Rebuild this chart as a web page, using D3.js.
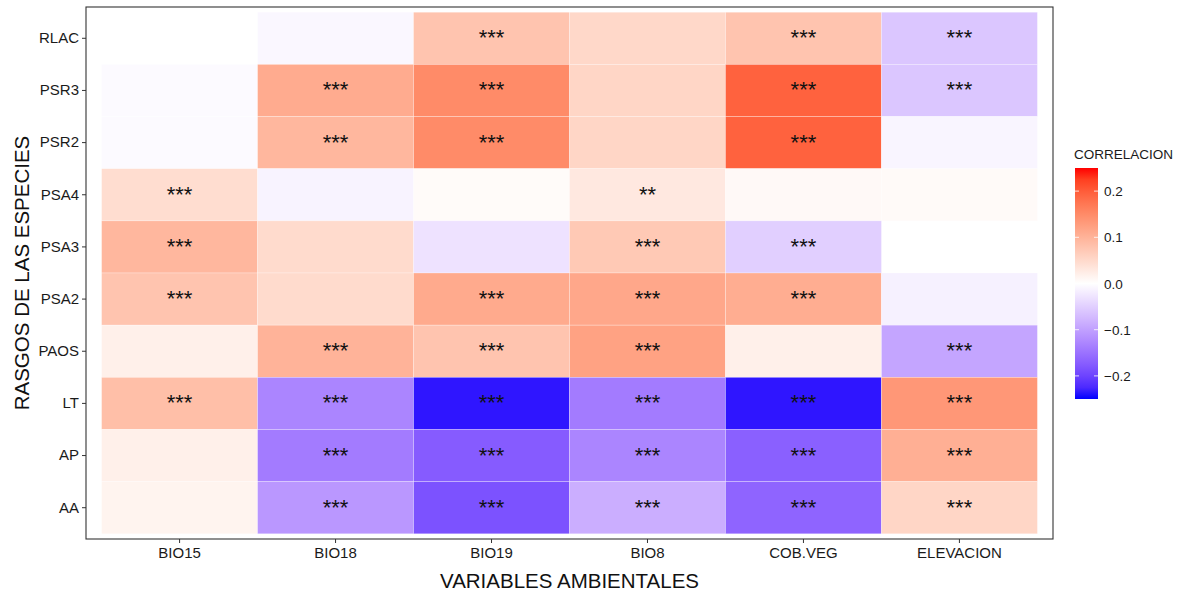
<!DOCTYPE html>
<html>
<head>
<meta charset="utf-8">
<script src="https://cdn.jsdelivr.net/npm/d3@7"></script>
<style>
  body { margin: 0; background: #fff; }
  svg { font-family: "Liberation Sans", Arial, sans-serif; }
</style>
</head>
<body>
<div id="chart-area"></div>
<script>
// columns (environmental variables) and rows (species traits)
const variables = ['BIO15', 'BIO18', 'BIO19', 'BIO8', 'COB.VEG', 'ELEVACION'];
const traits = ['RLAC', 'PSR3', 'PSR2', 'PSA4', 'PSA3', 'PSA2', 'PAOS', 'LT', 'AP', 'AA'];

// correlation per trait, in the order of `variables` (null = no tile)
const rlac = [0.000, -0.008, 0.078, 0.052, 0.078, -0.060];
const psr3 = [-0.005, 0.110, 0.150, 0.055, 0.195, -0.060];
const psr2 = [-0.005, 0.095, 0.150, 0.055, 0.195, -0.010];
const psa4 = [0.045, -0.012, 0.006, 0.030, 0.008, 0.007];
const psa3 = [0.095, 0.048, -0.030, 0.072, -0.050, null];
const psa2 = [0.078, 0.048, 0.112, 0.115, 0.108, -0.015];
const paos = [0.020, 0.100, 0.078, 0.122, 0.020, -0.095];
const lt   = [0.085, -0.130, -0.240, -0.140, -0.240, 0.135];
const ap   = [0.020, -0.140, -0.175, -0.130, -0.170, 0.105];
const aa   = [0.015, -0.110, -0.185, -0.085, -0.165, 0.055];
const values = [rlac, psr3, psr2, psa4, psa3, psa2, paos, lt, ap, aa];

// significance labels, same layout
const sig = [
  ['', '', '***', '', '***', '***'],
  ['', '***', '***', '', '***', '***'],
  ['', '***', '***', '', '***', ''],
  ['***', '', '', '**', '', ''],
  ['***', '', '', '***', '***', ''],
  ['***', '', '***', '***', '***', ''],
  ['', '***', '***', '***', '', '***'],
  ['***', '***', '***', '***', '***', '***'],
  ['', '***', '***', '***', '***', '***'],
  ['', '***', '***', '***', '***', '***']
];

const legendTicks = [0.2, 0.1, 0.0, -0.1, -0.2];

let margin = { left: 86, top: 7 };
let width = 967;
let height = 532;

const svg = d3.select('#chart-area').append('svg')
  .attr('width', 1182)
  .attr('height', 594);

let g = svg.append('g')
  .attr('transform', 'translate(' + margin.left + ', ' + margin.top + ')');

let x = d3.scaleBand()
  .domain(variables)
  .range([0, width])
  .paddingOuter(0.1);

let y = d3.scaleBand()
  .domain(traits)
  .range([0, height])
  .paddingOuter(0.1);

// diverging scale, white in the middle
let color = d3.scaleLinear()
  .domain([-0.25, 0, 0.25])
  .range(['#0000ff', '#ffffff', '#ff0000'])
  .interpolate(d3.interpolateLab)
  .clamp(true);

let cells = [];
traits.forEach((t, i) => {
  variables.forEach((v, j) => {
    cells.push({ trait: t, variable: v, value: values[i][j], label: sig[i][j] });
  });
});

g.selectAll('rect.tile')
  .data(cells.filter(d => d.value !== null))
  .enter()
  .append('rect')
    .attr('class', 'tile')
    .attr('x', d => x(d.variable))
    .attr('y', d => y(d.trait))
    .attr('width', x.bandwidth())
    .attr('height', y.bandwidth())
    .attr('fill', d => color(d.value))
    .attr('stroke', 'rgba(255,255,255,0.45)')
    .attr('stroke-width', 0.6);

g.selectAll('text.sig')
  .data(cells.filter(d => d.label !== ''))
  .enter()
  .append('text')
    .attr('class', 'sig')
    .attr('x', d => x(d.variable) + x.bandwidth() / 2)
    .attr('y', d => y(d.trait) + y.bandwidth() / 2 + 7)
    .attr('text-anchor', 'middle')
    .attr('font-size', '22px')
    .attr('fill', '#111')
    .text(d => d.label);

// panel border
g.append('rect')
  .attr('width', width)
  .attr('height', height)
  .attr('fill', 'none')
  .attr('stroke', '#333')
  .attr('stroke-width', 1.1);

// axes
let xAxis = g.append('g')
  .attr('transform', 'translate(0, ' + height + ')')
  .call(d3.axisBottom(x).tickSize(4).tickPadding(4));
let yAxis = g.append('g')
  .call(d3.axisLeft(y).tickSize(4).tickPadding(3));

[xAxis, yAxis].forEach(ax => {
  ax.select('.domain').remove();
  ax.selectAll('line').attr('stroke', '#333');
  ax.selectAll('text')
    .attr('font-size', '15px')
    .attr('fill', '#1a1a1a')
    .attr('font-family', '"Liberation Sans", Arial, sans-serif');
});

// axis titles
svg.append('text')
  .attr('x', margin.left + width / 2)
  .attr('y', 588)
  .attr('text-anchor', 'middle')
  .attr('font-size', '20.5px')
  .attr('fill', '#111')
  .text('VARIABLES AMBIENTALES');

svg.append('text')
  .attr('x', -(margin.top + height / 2))
  .attr('y', 29)
  .attr('text-anchor', 'middle')
  .attr('font-size', '20.5px')
  .attr('fill', '#111')
  .attr('transform', 'rotate(-90)')
  .text('RASGOS DE LAS ESPECIES');

// colour bar legend
let legX = 1075, legW = 23, legTop = 168, legH = 231;
let ly = d3.scaleLinear()
  .domain([0.25, -0.25])
  .range([legTop, legTop + legH]);

let defs = svg.append('defs');
let grad = defs.append('linearGradient')
  .attr('id', 'corr-grad')
  .attr('x1', 0).attr('y1', 0).attr('x2', 0).attr('y2', 1);
d3.range(0, 1.0001, 0.05).forEach(t => {
  grad.append('stop')
    .attr('offset', t)
    .attr('stop-color', color(ly.invert(legTop + t * legH)));
});

svg.append('text')
  .attr('x', legX - 1)
  .attr('y', 159)
  .attr('font-size', '13.5px')
  .attr('fill', '#1a1a1a')
  .text('CORRELACION');

svg.append('rect')
  .attr('x', legX)
  .attr('y', legTop)
  .attr('width', legW)
  .attr('height', legH)
  .attr('fill', 'url(#corr-grad)');

let legTick = svg.append('g');
legendTicks.forEach(v => {
  legTick.append('line')
    .attr('x1', legX).attr('x2', legX + 4)
    .attr('y1', ly(v)).attr('y2', ly(v))
    .attr('stroke', '#fff').attr('stroke-width', 0.8);
  legTick.append('line')
    .attr('x1', legX + legW - 4).attr('x2', legX + legW)
    .attr('y1', ly(v)).attr('y2', ly(v))
    .attr('stroke', '#fff').attr('stroke-width', 0.8);
  legTick.append('text')
    .attr('x', legX + legW + 6)
    .attr('y', ly(v) + 5)
    .attr('font-size', '13.5px')
    .attr('fill', '#1a1a1a')
    .text(d3.format('.1f')(v).replace('-', '\u2212'));
});
</script>
</body>
</html>
